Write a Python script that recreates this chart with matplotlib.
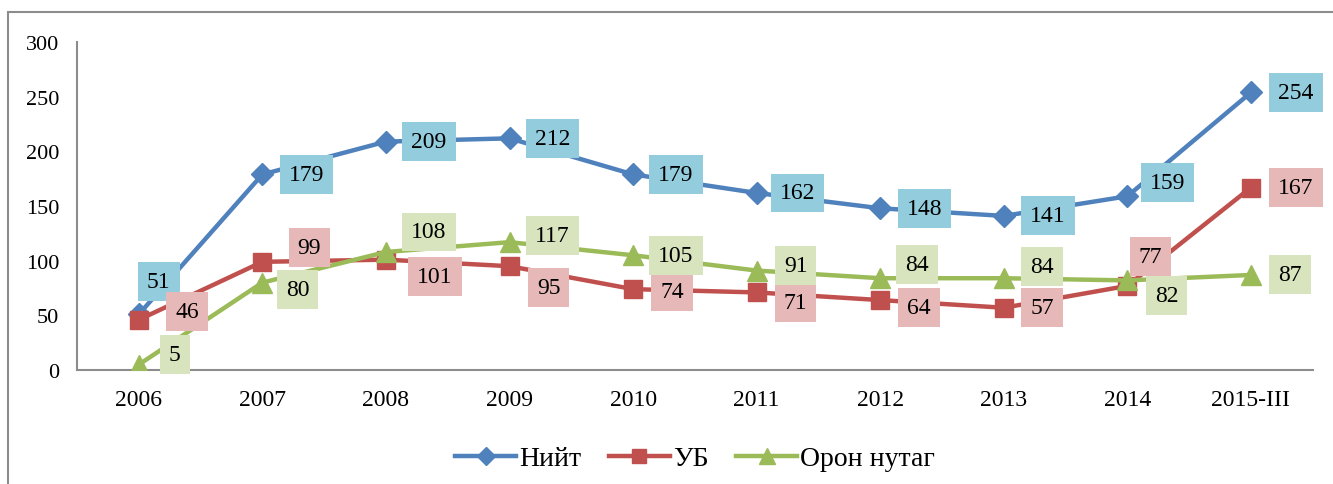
import matplotlib.pyplot as plt
from matplotlib.patches import Rectangle

years = ["2006", "2007", "2008", "2009", "2010", "2011", "2012", "2013", "2014", "2015-III"]
niit = [51, 179, 209, 212, 179, 162, 148, 141, 159, 254]
ub = [46, 99, 101, 95, 74, 71, 64, 57, 77, 167]
oron = [5, 80, 108, 117, 105, 91, 84, 84, 82, 87]

# label offsets in pixels (dx, dy), dy up
niit_off = [(20, 33), (44, 0), (43, 0), (43, 0), (43, 0), (41, 0), (44, 0), (44, 0), (40, 14), (45, 0)]
ub_off = [(48, 8), (47, 14), (49, -17), (39, -21), (39, -2), (39, -10), (39, -7), (38, 0), (23, 29), (45, 0)]
oron_off = [(36, 10), (35, -7), (43, 20), (43, 7), (43, 0), (39, 5), (37, 14), (38, 12), (39, -15), (39, 0)]

plt.rcParams['font.family'] = ['Liberation Serif', 'DejaVu Serif']

fig = plt.figure(figsize=(13.33, 4.85), dpi=100)
ax = fig.add_axes([0.0578, 0.235, 0.927, 0.676])

x = list(range(len(years)))
series = [
    ("Нийт", niit, niit_off, "#4F81BD", "D", 11, "#93CDDD"),
    ("УБ", ub, ub_off, "#C0504D", "s", 13, "#E6B9B8"),
    ("Орон нутаг", oron, oron_off, "#9BBB59", "^", 15, "#D7E4BD"),
]
for name, vals, offs, col, mk, ms, bg in series:
    ax.plot(x, vals, color=col, lw=3.2, marker=mk, ms=ms, label=name, zorder=3)
for name, vals, offs, col, mk, ms, bg in series:
    for xi, v, (dx, dy) in zip(x, vals, offs):
        ax.annotate(str(v), (xi, v), xytext=(dx, dy), textcoords="offset pixels",
                    ha="center", va="center", fontsize=17, zorder=5,
                    bbox=dict(boxstyle="square,pad=0.38", fc=bg, ec="none"))

ax.set_xlim(-0.5, len(years) - 0.5)
ax.set_ylim(0, 300)
ax.set_yticks(range(0, 301, 50))
ax.set_xticks(x)
ax.set_xticklabels(years)
ax.tick_params(length=0, colors="black")
ax.tick_params(axis="x", pad=14, labelsize=17)
ax.tick_params(axis="y", pad=13, labelsize=16)
for s in ["top", "right"]:
    ax.spines[s].set_visible(False)
for s in ["left", "bottom"]:
    ax.spines[s].set_color("#8C8C8C")
    ax.spines[s].set_linewidth(1.5)

ax.legend(loc="center", bbox_to_anchor=(0.5, -0.27), ncol=3, frameon=False,
          fontsize=20, handlelength=2.2, handletextpad=0.1, columnspacing=1.0,
          markerscale=0.8)

fig.patches.append(Rectangle((8 / 1333, -0.1), 1.2, 1.1 - 13 / 485, transform=fig.transFigure,
                             fill=False, ec="#8C8C8C", lw=1.5))

fig.savefig("out.png", dpi=100)
